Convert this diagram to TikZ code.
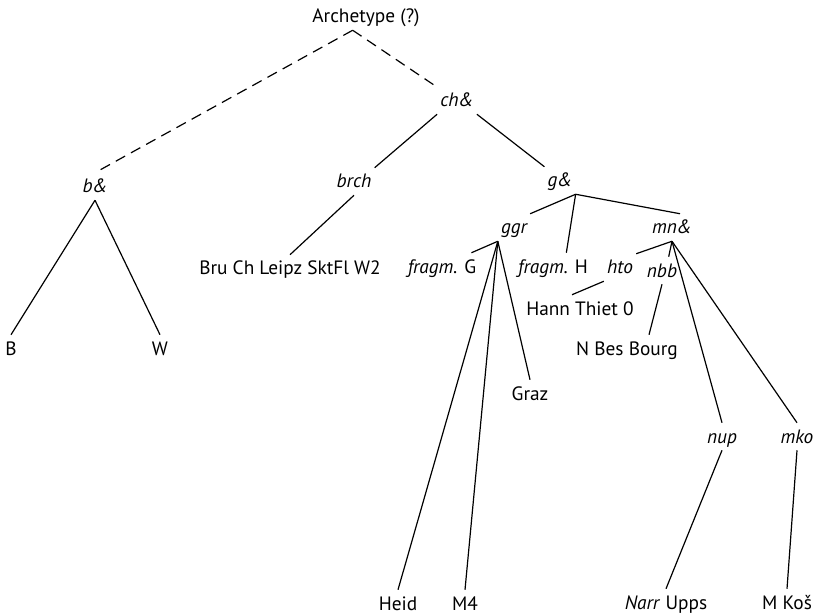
\documentclass[tikz,border=0pt]{standalone}
\usepackage{fontspec}
\setmainfont{PT Sans}
\usetikzlibrary{positioning}

\begin{document}
\begin{tikzpicture}[
    x=0.75pt, y=-0.75pt,
    wit/.style={anchor=base, inner sep=2.25pt, text height=12.75pt, text depth=3pt,
                font=\fontsize{14.5}{17}\selectfont},
    hyp/.style={wit, font=\fontsize{14.5}{17}\selectfont\itshape},
    line/.style={draw, line width=0.9pt},
    lost/.style={line, dash pattern=on 8pt off 5pt}
]
\useasboundingbox (0,0) rectangle (816,616);

% Top of the stemma
\node [wit] (arch) at (366,23) {Archetype (?)};
\node [hyp] (b) at (95,193) {b\&};
\node [hyp] (ch) at (457,107) {ch\&};
\node [hyp] (brch) at (354,188) {brch};
\node [hyp] (g) at (560,187) {g\&};

% Witnesses of b& and brch
\node [wit] (B) at (11,355) {B};
\node [wit] (W) at (160,355) {W};
\node [wit] (bru) at (290,275) {Bru Ch Leipz SktFl W2};

% Branches of g&
\node [hyp] (ggr) at (514,234) {ggr};
\node [hyp] (mn) at (672,234) {mn\&};
\node [wit] (fragmG) at (442,273) {\textit{fragm.} G};
\node [wit] (fragmH) at (553,273) {\textit{fragm.} H};
\node [hyp] (hto) at (620,274) {hto};
\node [hyp] (nbb) at (662,277) {nbb};
\node [wit] (hann) at (580,315) {Hann Thiet 0};
\node [wit] (nbes) at (627,355) {N Bes Bourg};
\node [wit] (graz) at (530,400) {Graz};
\node [hyp] (nup) at (722,443) {nup};
\node [hyp] (mko) at (797,443) {mko};

% Bottom row
\node [wit] (heid) at (398,610) {Heid};
\node [wit] (m4) at (465,610) {M4};
\node [wit] (narr) at (666,609) {\textit{Narr} Upps};
\node [wit] (kos) at (787,609) {M Koš};

% Lost links
\draw [lost] ([xshift=-10pt]arch.south) -- (b.north);
\draw [lost] ([xshift=-10pt]arch.south) -- (ch);

% Connect the rest
\draw [line] (b.south) -- (B.north);
\draw [line] (b.south) -- (W.north);
\draw [line] (ch.south west) -- (brch.north east);
\draw [line] (ch.south east) -- (g.north west);
\draw [line] (brch.south) -- (bru.north);
\draw [line] (g.south east) -- (ggr.north east);
\draw [line] (g.south east) -- ([xshift=10pt]fragmH.north);
\draw [line] (g.south east) -- ([xshift=6pt]mn.north);
\draw [line] (ggr.south west) -- ([xshift=-6pt]fragmG.north east);
\draw [line] (ggr.south west) -- (heid.north);
\draw [line] (ggr.south west) -- (m4.north);
\draw [line] (ggr.south west) -- (graz.north);
\draw [line] (mn.south) -- (hto.north east);
\draw [line] (mn.south) -- ([xshift=5pt]nbb.north);
\draw [line] (mn.south) -- (nup.north);
\draw [line] (mn.south) -- (mko.north);
\draw [line] (hto.south west) -- ([xshift=-6pt]hann.north);
\draw [line] (nbb.south) -- ([xshift=16.5pt]nbes.north);
\draw [line] (nup.south) -- (narr.north);
\draw [line] (mko.south) -- (kos.north);

\end{tikzpicture}
\end{document}
